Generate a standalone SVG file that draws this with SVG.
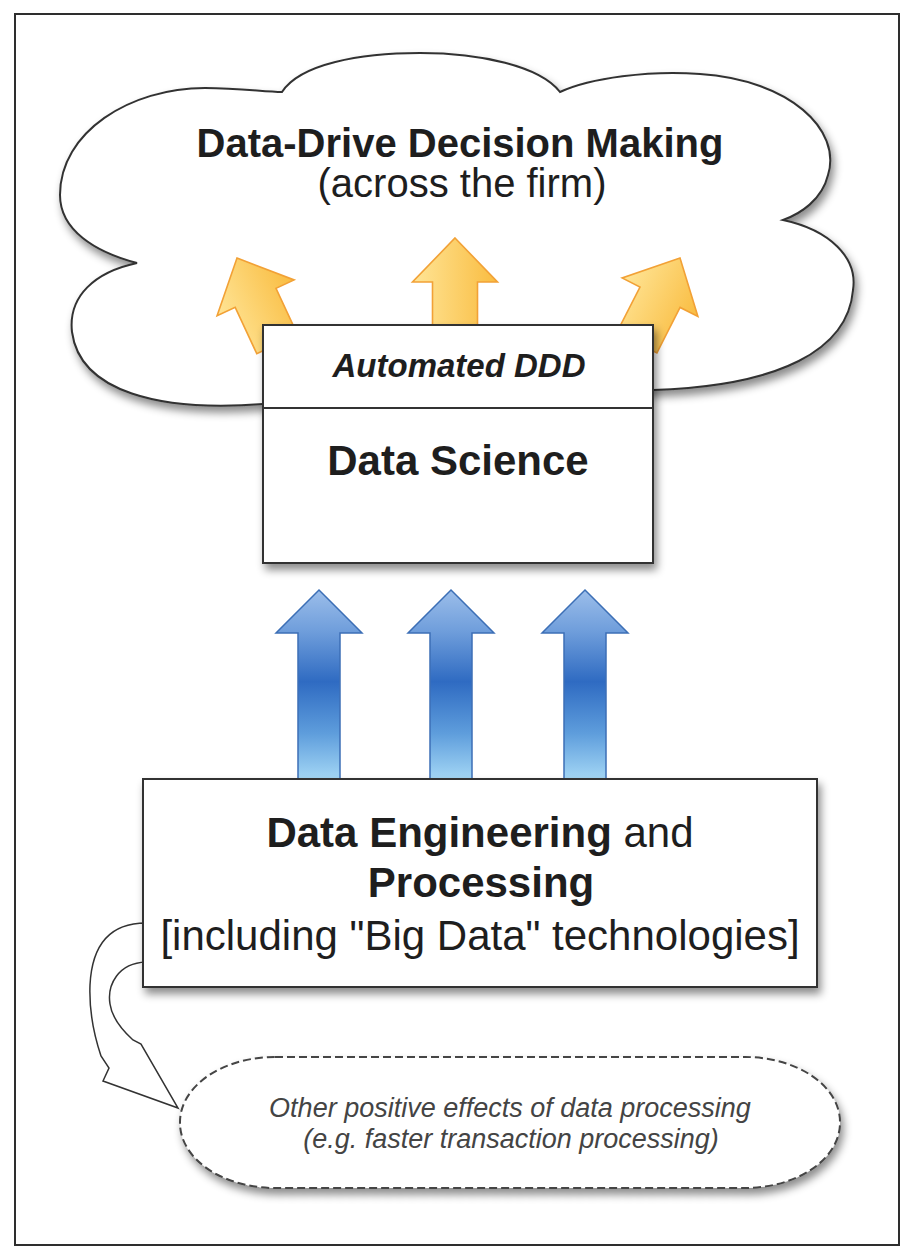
<svg xmlns="http://www.w3.org/2000/svg" width="914" height="1258" viewBox="0 0 914 1258">
  <defs>
    <style>
      .t { font-family: "Liberation Sans", Arial, Helvetica, sans-serif; fill: #1e1e1e; text-anchor: middle; }
      .b { font-weight: bold; }
      .box { fill: #ffffff; stroke: #333333; stroke-width: 2; }
      .yarrow { fill: url(#yellowGrad); stroke: #F2A136; stroke-width: 1.6; stroke-linejoin: miter; }
      .barrow { fill: url(#blueGrad); stroke: #3C6FB6; stroke-width: 1.5; }
      .note { fill: #444444; font-style: italic; }
    </style>
    <filter id="shadow" x="-10%" y="-10%" width="125%" height="130%">
      <feDropShadow dx="3" dy="6" stdDeviation="4" flood-color="#000000" flood-opacity="0.45"/>
    </filter>
    <linearGradient id="yellowGrad" x1="0" y1="0" x2="1" y2="0">
      <stop offset="0" stop-color="#FFE597"/>
      <stop offset="1" stop-color="#F9BC40"/>
    </linearGradient>
    <linearGradient id="blueGrad" x1="0" y1="0" x2="0" y2="1">
      <stop offset="0" stop-color="#9CBEEA"/>
      <stop offset="0.22" stop-color="#6E9DDB"/>
      <stop offset="0.48" stop-color="#2F6BC2"/>
      <stop offset="0.75" stop-color="#5E9DDC"/>
      <stop offset="1" stop-color="#A6D9F6"/>
    </linearGradient>
  </defs>

  <rect x="0" y="0" width="914" height="1258" fill="#ffffff"/>
  <rect id="frame" x="15" y="14" width="884" height="1231" fill="#ffffff" stroke="#2e2e2e" stroke-width="2"/>

  <g id="cloud">
    <path class="box" filter="url(#shadow)" d="M263,404 C160,412 80,392 72,332 C68,296 95,272 137,263 C95,252 60,230 60,195 C60,132 130,88 205,88 C240,88 265,92 282,92 C300,64 360,53 420,53 C480,53 540,66 560,92 C590,78 650,70 700,74 C790,80 842,130 828,175 C822,200 800,214 783,220 C830,230 858,258 853,290 C848,350 780,386 653,390 Z"/>
    <text class="t b" x="460" y="157" font-size="40">Data-Drive Decision Making</text>
    <text class="t" x="462" y="197" font-size="40">(across the firm)</text>
  </g>

  <g id="connectors">
    <path class="yarrow" transform="translate(237,258) rotate(-25)" d="M0,0 L42.5,44 L22.5,44 L22.5,95 L-22.5,95 L-22.5,44 L-42.5,44 Z"/>
    <path class="yarrow" transform="translate(455,238)" d="M0,0 L42.5,44 L22.5,44 L22.5,95 L-22.5,95 L-22.5,44 L-42.5,44 Z"/>
    <path class="yarrow" transform="translate(680,258) rotate(27)" d="M0,0 L42.5,44 L22.5,44 L22.5,95 L-22.5,95 L-22.5,44 L-42.5,44 Z"/>

    <path class="barrow" transform="translate(319,590)" d="M0,0 L43,43 L21,43 L21,191 L-21,191 L-21,43 L-43,43 Z"/>
    <path class="barrow" transform="translate(451,590)" d="M0,0 L43,43 L21,43 L21,191 L-21,191 L-21,43 L-43,43 Z"/>
    <path class="barrow" transform="translate(585,590)" d="M0,0 L43,43 L21,43 L21,191 L-21,191 L-21,43 L-43,43 Z"/>

    <path fill="#ffffff" stroke="#333333" stroke-width="1.5" stroke-linejoin="miter" d="M146,923 C110,923 92,945 90,985 C89,1010 94,1035 101,1056 L109,1068 L103,1081 L178,1108 L141,1044 L133,1040 C122,1030 112,1018 110,1004 C107,985 118,963 146,962 Z"/>
  </g>

  <g id="data-science">
    <rect class="box" filter="url(#shadow)" x="263" y="325" width="390" height="238"/>
    <line x1="263" y1="408" x2="653" y2="408" stroke="#333333" stroke-width="2"/>
    <text class="t b" x="459" y="377" font-size="33" font-style="italic">Automated DDD</text>
    <text class="t b" x="458" y="475" font-size="42">Data Science</text>
  </g>

  <g id="data-engineering">
    <rect class="box" filter="url(#shadow)" x="143" y="779" width="674" height="208"/>
    <text class="t" x="480" y="847" font-size="42"><tspan font-weight="bold">Data Engineering</tspan> and</text>
    <text class="t b" x="481" y="897" font-size="42">Processing</text>
    <text class="t" x="480" y="950" font-size="42">[including "Big Data" technologies]</text>
  </g>

  <g id="other-effects">
    <rect x="180" y="1057" width="660" height="131" rx="95" ry="65" fill="#ffffff" stroke="#444444" stroke-width="2" stroke-dasharray="8,4" filter="url(#shadow)"/>
    <text class="t note" x="510" y="1117" font-size="27">Other positive effects of data processing</text>
    <text class="t note" x="511" y="1148" font-size="27">(e.g. faster transaction processing)</text>
  </g>
</svg>
